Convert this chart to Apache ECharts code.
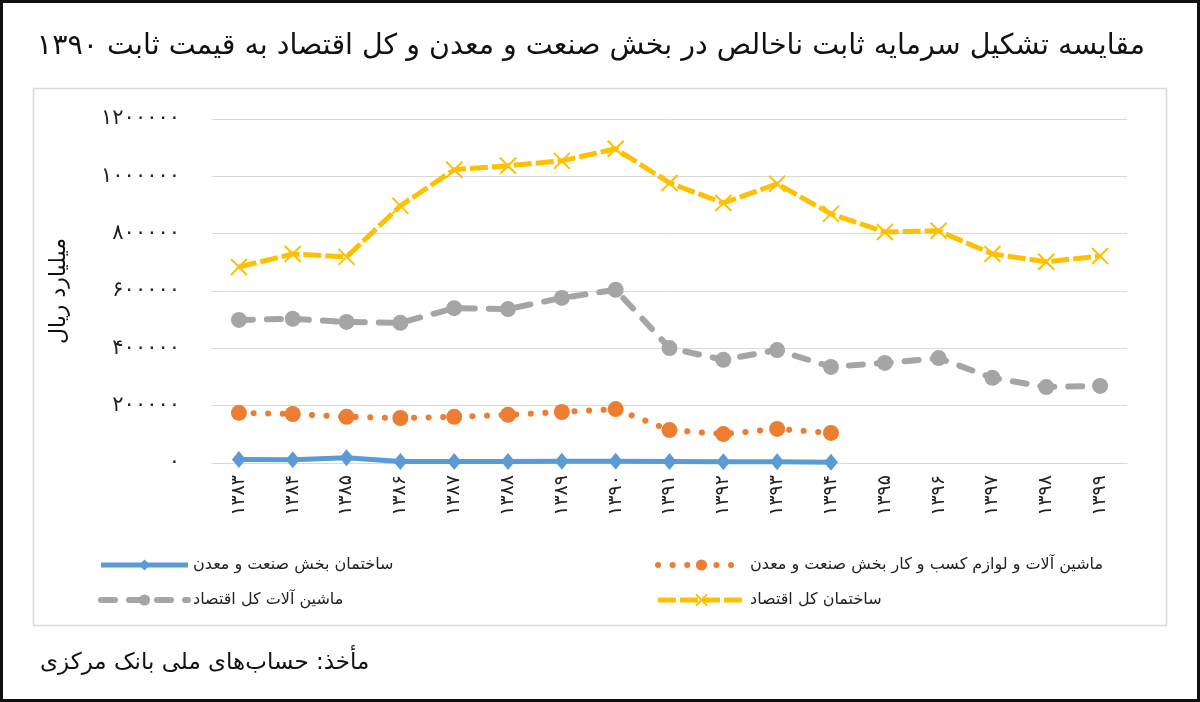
<!DOCTYPE html>
<html>
<head>
<meta charset="utf-8">
<script src="https://cdn.jsdelivr.net/npm/echarts@6/dist/echarts.min.js"></script>
<style>
html,body{margin:0;padding:0;background:#fff;}
#chart{width:1200px;height:702px;}
</style>
</head>
<body>
<div id="chart"></div>
<script>
const categories = ['۱۳۸۳','۱۳۸۴','۱۳۸۵','۱۳۸۶','۱۳۸۷','۱۳۸۸','۱۳۸۹','۱۳۹۰','۱۳۹۱','۱۳۹۲','۱۳۹۳','۱۳۹۴','۱۳۹۵','۱۳۹۶','۱۳۹۷','۱۳۹۸','۱۳۹۹'];
const seriesNames = [
  'ساختمان بخش صنعت و معدن',
  'ماشین آلات و لوازم کسب و کار بخش صنعت و معدن',
  'ماشین آلات کل اقتصاد',
  'ساختمان کل اقتصاد'
];
const blueBuildIndustry = [12000, 11000, 18000, 5000, 5000, 5000, 6000, 6000, 5000, 4000, 4000, 3000, null, null, null, null, null];
const orangeMachIndustry = [175000, 171000, 161000, 157000, 161000, 168000, 178000, 188000, 115000, 101000, 119000, 105000, null, null, null, null, null];
const grayMachTotal = [499000, 503000, 492000, 489000, 540000, 537000, 576000, 604000, 401000, 360000, 394000, 335000, 349000, 366000, 297000, 265000, 269000];
const yellowBuildTotal = [684000, 729000, 719000, 897000, 1023000, 1037000, 1054000, 1096000, 977000, 907000, 974000, 869000, 806000, 810000, 729000, 702000, 722000];
const titleText = 'مقایسه تشکیل سرمایه ثابت ناخالص در بخش صنعت و معدن و کل اقتصاد به قیمت ثابت ۱۳۹۰';
const yAxisName = 'میلیارد ریال';
const sourceText = 'مأخذ: حساب‌های ملی بانک مرکزی';

const FONT = "'DejaVu Sans', 'Noto Sans', sans-serif";
const faDigits = '۰۱۲۳۴۵۶۷۸۹';
function toFa(v){ return String(v).replace(/\d/g, d => faDigits[+d]); }

const chart = echarts.init(document.getElementById('chart'), null, {renderer:'canvas'});
const xSymbol = 'path://M0,0L10,10M10,0L0,10';

const legendCommon = {
  orient:'vertical', top:557, itemWidth:87, itemHeight:14, itemGap:19, padding:0,
  lineStyle:{width:'inherit'},
  textStyle:{fontFamily:FONT, fontSize:16, color:'#222'}
};

const option = {
  backgroundColor: '#fff',
  animation: false,
  textStyle: {fontFamily: FONT},
  title: {
    text: titleText,
    right: 50,
    top: 27,
    textStyle: {fontFamily: FONT, fontSize: 28.5, fontWeight: 'normal', color: '#111'}
  },
  graphic: [
    {type:'rect', shape:{x:1.5,y:1.5,width:1197,height:699}, style:{fill:'none', stroke:'#111', lineWidth:3}, silent:true, z:-1},
    {type:'rect', shape:{x:33.5,y:88.5,width:1133,height:537}, style:{fill:'none', stroke:'#d9d9d9', lineWidth:1.5}, silent:true, z:-1},
    {type:'text', left:40, top:652, style:{text: sourceText, font: "23px " + FONT, fill:'#111'}}
  ],
  legend: [
    Object.assign({}, legendCommon, {left:98, data:[seriesNames[0], seriesNames[2]]}),
    Object.assign({}, legendCommon, {left:655, data:[seriesNames[1], seriesNames[3]]})
  ],
  grid: {left:212, right:73, top:119, bottom:239, containLabel:false},
  xAxis: {
    type:'category',
    data: categories,
    boundaryGap: true,
    axisLine:{show:true, lineStyle:{color:'#d9d9d9', width:1}},
    axisTick:{show:false},
    axisLabel:{rotate:90, fontSize:19, color:'#222', fontFamily:FONT, margin:12}
  },
  yAxis: {
    type:'value',
    min:0, max:1200000, interval:200000,
    name: yAxisName,
    nameLocation:'middle',
    nameGap:142,
    nameTextStyle:{fontSize:22, color:'#111', fontFamily:FONT},
    axisLine:{show:false},
    axisTick:{show:false},
    splitLine:{lineStyle:{color:'#d9d9d9', width:1}},
    axisLabel:{fontSize:21, color:'#222', fontFamily:FONT, margin:32, formatter: v => toFa(v)}
  },
  series: [
    {
      name: seriesNames[0], type:'line', data: blueBuildIndustry,
      symbol:'diamond', symbolSize:[14,17],
      lineStyle:{color:'#5B9BD5', width:5},
      itemStyle:{color:'#5B9BD5'},
      z:4
    },
    {
      name: seriesNames[1], type:'line', data: orangeMachIndustry,
      symbol:'circle', symbolSize:16,
      lineStyle:{color:'#ED7D31', width:6, type:[0.1, 14.5], cap:'round'},
      itemStyle:{color:'#ED7D31'},
      z:3
    },
    {
      name: seriesNames[2], type:'line', data: grayMachTotal,
      symbol:'circle', symbolSize:16,
      lineStyle:{color:'#A5A5A5', width:6, type:[14, 14], cap:'round'},
      itemStyle:{color:'#A5A5A5'},
      z:2
    },
    {
      name: seriesNames[3], type:'line', data: yellowBuildTotal,
      symbol: xSymbol, symbolSize:16,
      lineStyle:{color:'#FFC000', width:5, type:[18, 4]},
      itemStyle:{color:'rgba(0,0,0,0)', borderColor:'#FFC000', borderWidth:2},
      z:2
    }
  ]
};
chart.setOption(option);
</script>
</body>
</html>
